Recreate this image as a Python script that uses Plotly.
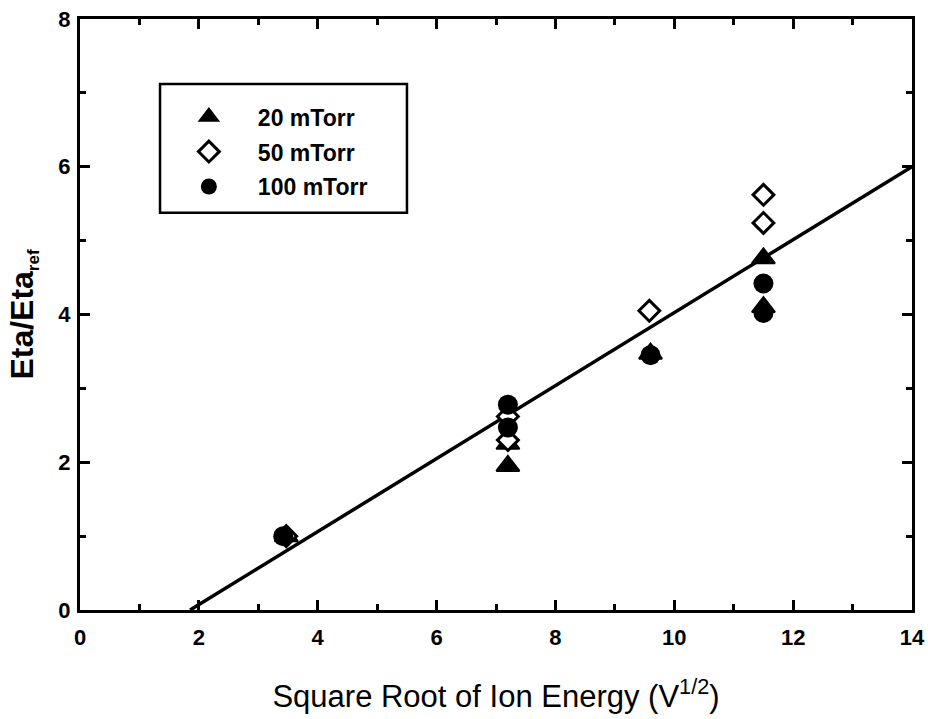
import plotly.graph_objects as go

# Square root of ion energy (V^1/2) for each measurement
x_20 = [3.47, 7.2, 7.2, 9.6, 11.5, 11.5]
y_20 = [1.0, 1.95, 2.25, 3.47, 4.76, 4.10]

x_50 = [3.47, 7.2, 7.2, 9.58, 11.5, 11.5]
y_50 = [1.0, 2.30, 2.62, 4.05, 5.62, 5.24]

x_100 = [3.42, 7.2, 7.2, 9.6, 11.5, 11.5]
y_100 = [1.0, 2.47, 2.78, 3.45, 4.42, 4.02]

# Linear fit: Eta/Eta_ref = slope * sqrt(E) + intercept
fit_slope = 0.494
fit_intercept = -0.915
fit_x_end = 14.0

x_ticks = [0, 2, 4, 6, 8, 10, 12, 14]
y_ticks = [0, 2, 4, 6, 8]

FONT = "Liberation Sans"

fit_x0 = -fit_intercept / fit_slope
fit_x = [fit_x0, fit_x_end]
fit_y = [fit_slope * v + fit_intercept for v in fit_x]

fig = go.Figure()

fig.add_trace(go.Scatter(
    x=fit_x, y=fit_y, mode="lines",
    line=dict(color="black", width=3.5),
    showlegend=False, hoverinfo="skip",
))

fig.add_trace(go.Scatter(
    x=x_20, y=y_20, mode="markers", name="20 mTorr", legendgroup="g20",
    marker=dict(symbol="triangle-up", size=20, color="black",
                line=dict(color="black", width=2)),
))
fig.add_trace(go.Scatter(
    x=x_50, y=y_50, mode="markers", name="50 mTorr", legendgroup="g50",
    marker=dict(symbol="diamond", size=16, color="white",
                line=dict(color="black", width=3)),
))
fig.add_trace(go.Scatter(
    x=x_100, y=y_100, mode="markers", name="100 mTorr", legendgroup="g100",
    marker=dict(symbol="circle", size=20, color="black",
                line=dict(color="black", width=0)),
))

axis_common = dict(
    showline=True, linecolor="black", linewidth=3, mirror="ticks",
    ticks="inside", ticklen=10, tickwidth=3, tickcolor="black",
    showgrid=False, zeroline=False, automargin=False,
    tickfont=dict(family=FONT, size=22, color="black", weight="bold"),
)

fig.update_xaxes(
    range=[0, 14], tickvals=x_ticks,
    minor=dict(dtick=1, ticks="inside", ticklen=6, tickwidth=3, tickcolor="black"),
    title=dict(text="Square Root of Ion Energy (V<sup>1/2</sup>)",
               font=dict(family=FONT, size=31, color="black"), standoff=36),
    ticklabelstandoff=6,
    **axis_common,
)
fig.update_yaxes(
    range=[0, 8], tickvals=y_ticks,
    minor=dict(dtick=1, ticks="inside", ticklen=6, tickwidth=3, tickcolor="black"),
    title=dict(text="Eta/Eta<sub><span style='font-size:17px'>ref</span></sub>",
               font=dict(family=FONT, size=32, color="black", weight="bold"), standoff=16),
    ticklabelstandoff=2,
    **axis_common,
)

# Legend frame
fig.add_shape(
    type="rect", xref="paper", yref="paper",
    x0=0.0962, x1=0.393, y0=0.672, y1=0.890,
    line=dict(color="black", width=2.5), fillcolor="white", layer="below",
)

fig.update_layout(
    width=928, height=719,
    margin=dict(l=80, r=16, t=19, b=109),
    paper_bgcolor="white", plot_bgcolor="white",
    showlegend=True,
    legend=dict(
        x=0.096, y=0.871, xanchor="left", yanchor="top",
        bgcolor="rgba(0,0,0,0)", borderwidth=0,
        font=dict(family=FONT, size=23, color="black", weight="bold"),
        itemwidth=88,
        tracegroupgap=2,
    ),
)

fig.write_html("out.html")
